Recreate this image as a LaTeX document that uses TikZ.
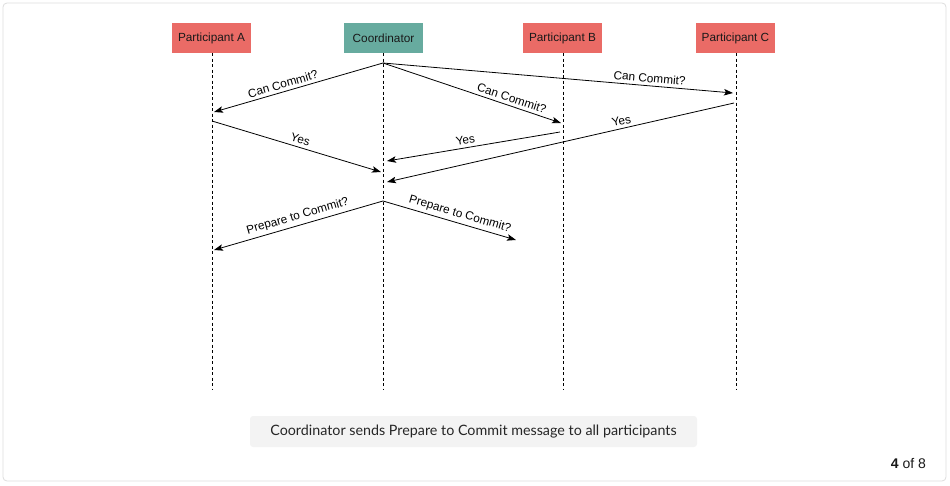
\documentclass[tikz,border=0pt]{standalone}
\usepackage{fontspec}
\setmainfont{Liberation Sans}
\newfontfamily\notefont{Lato}
\usepackage{xcolor}
\usetikzlibrary{arrows.meta}

\definecolor{partred}{HTML}{EA6B66}
\definecolor{coordteal}{HTML}{67AB9F}
\definecolor{notegray}{HTML}{F3F3F3}
\definecolor{framegray}{HTML}{DDDDDD}

\begin{document}
\begin{tikzpicture}[x=1pt,y=-1pt,
    actor/.style={minimum width=79pt,minimum height=30pt,inner sep=0pt,
        text=black!90,font=\fontsize{11.8}{14}\selectfont},
    life/.style={dash pattern=on 3pt off 2.5pt,line width=0.8pt},
    msg/.style={-{Stealth[length=9pt,width=6.5pt,inset=2pt]},line width=0.8pt},
    lbl/.style={sloped,above,inner sep=3pt,font=\fontsize{11.8}{14}\selectfont}]
        \useasboundingbox (0,0) rectangle (950,485);
        \draw[framegray,rounded corners=4pt,line width=0.8pt] (3,3) rectangle (946,481);

        % participants and lifelines
        \node[actor,fill=partred] (pa) at (211.5,38) {Participant A};
        \node[actor,fill=coordteal] (co) at (383.5,38) {Coordinator};
        \node[actor,fill=partred] (pb) at (562.5,38) {Participant B};
        \node[actor,fill=partred] (pc) at (735.5,38) {Participant C};

        \coordinate (pa-end) at (212,389);
        \coordinate (co-end) at (383,389);
        \coordinate (pb-end) at (563,389);
        \coordinate (pc-end) at (736,389);
        \draw[life] (pa.south -| pa-end) -- (pa-end);
        \draw[life] (co.south -| co-end) -- (co-end);
        \draw[life] (pb.south -| pb-end) -- (pb-end);
        \draw[life] (pc.south -| pc-end) -- (pc-end);

        % message points
        \coordinate (co-ask) at (383,63);
        \coordinate (pa-ask) at (214,112);
        \coordinate (pb-ask) at (561,123);
        \coordinate (pc-ask) at (733,93);
        \coordinate (pa-yes) at (212,121);
        \coordinate (pb-yes) at (560,132);
        \coordinate (pc-yes) at (734,103);
        \coordinate (co-yesa) at (381,172);
        \coordinate (co-yesb) at (387,161);
        \coordinate (co-yesc) at (387,182);
        \coordinate (co-prep) at (383,201);
        \coordinate (pa-prep) at (214,250);
        \coordinate (mid-prep) at (516,240);

        % phase one
        \draw[msg] (co-ask) -- node[lbl,pos=0.58] {Can Commit?} (pa-ask);
        \draw[msg] (co-ask) -- node[lbl,pos=0.71] {Can Commit?} (pb-ask);
        \draw[msg] (co-ask) -- node[lbl,pos=0.76] {Can Commit?} (pc-ask);
        \draw[msg] (pa-yes) -- node[lbl,pos=0.51] {Yes} (co-yesa);
        \draw[msg] (pb-yes) -- node[lbl,pos=0.54] {Yes} (co-yesb);
        \draw[msg] (pc-yes) -- node[lbl,pos=0.32] {Yes} (co-yesc);

        % phase two
        \draw[msg] (co-prep) -- node[lbl,pos=0.49] {Prepare to Commit?} (pa-prep);
        \draw[msg] (co-prep) -- node[lbl,pos=0.56] {Prepare to Commit?} (mid-prep);

        \node[fill=notegray,rounded corners=3pt,minimum width=447pt,minimum height=31pt,
            font=\notefont\fontsize{14.3}{16}\selectfont,text=black!85] (note) at (473.5,431.5)
            {Coordinator sends Prepare to Commit message to all participants};
        \node[anchor=east,font=\fontsize{14}{16}\selectfont,text=black!90] (count) at (929.5,463)
            {\textbf{4} of 8};
    \end{tikzpicture}
\end{document}
